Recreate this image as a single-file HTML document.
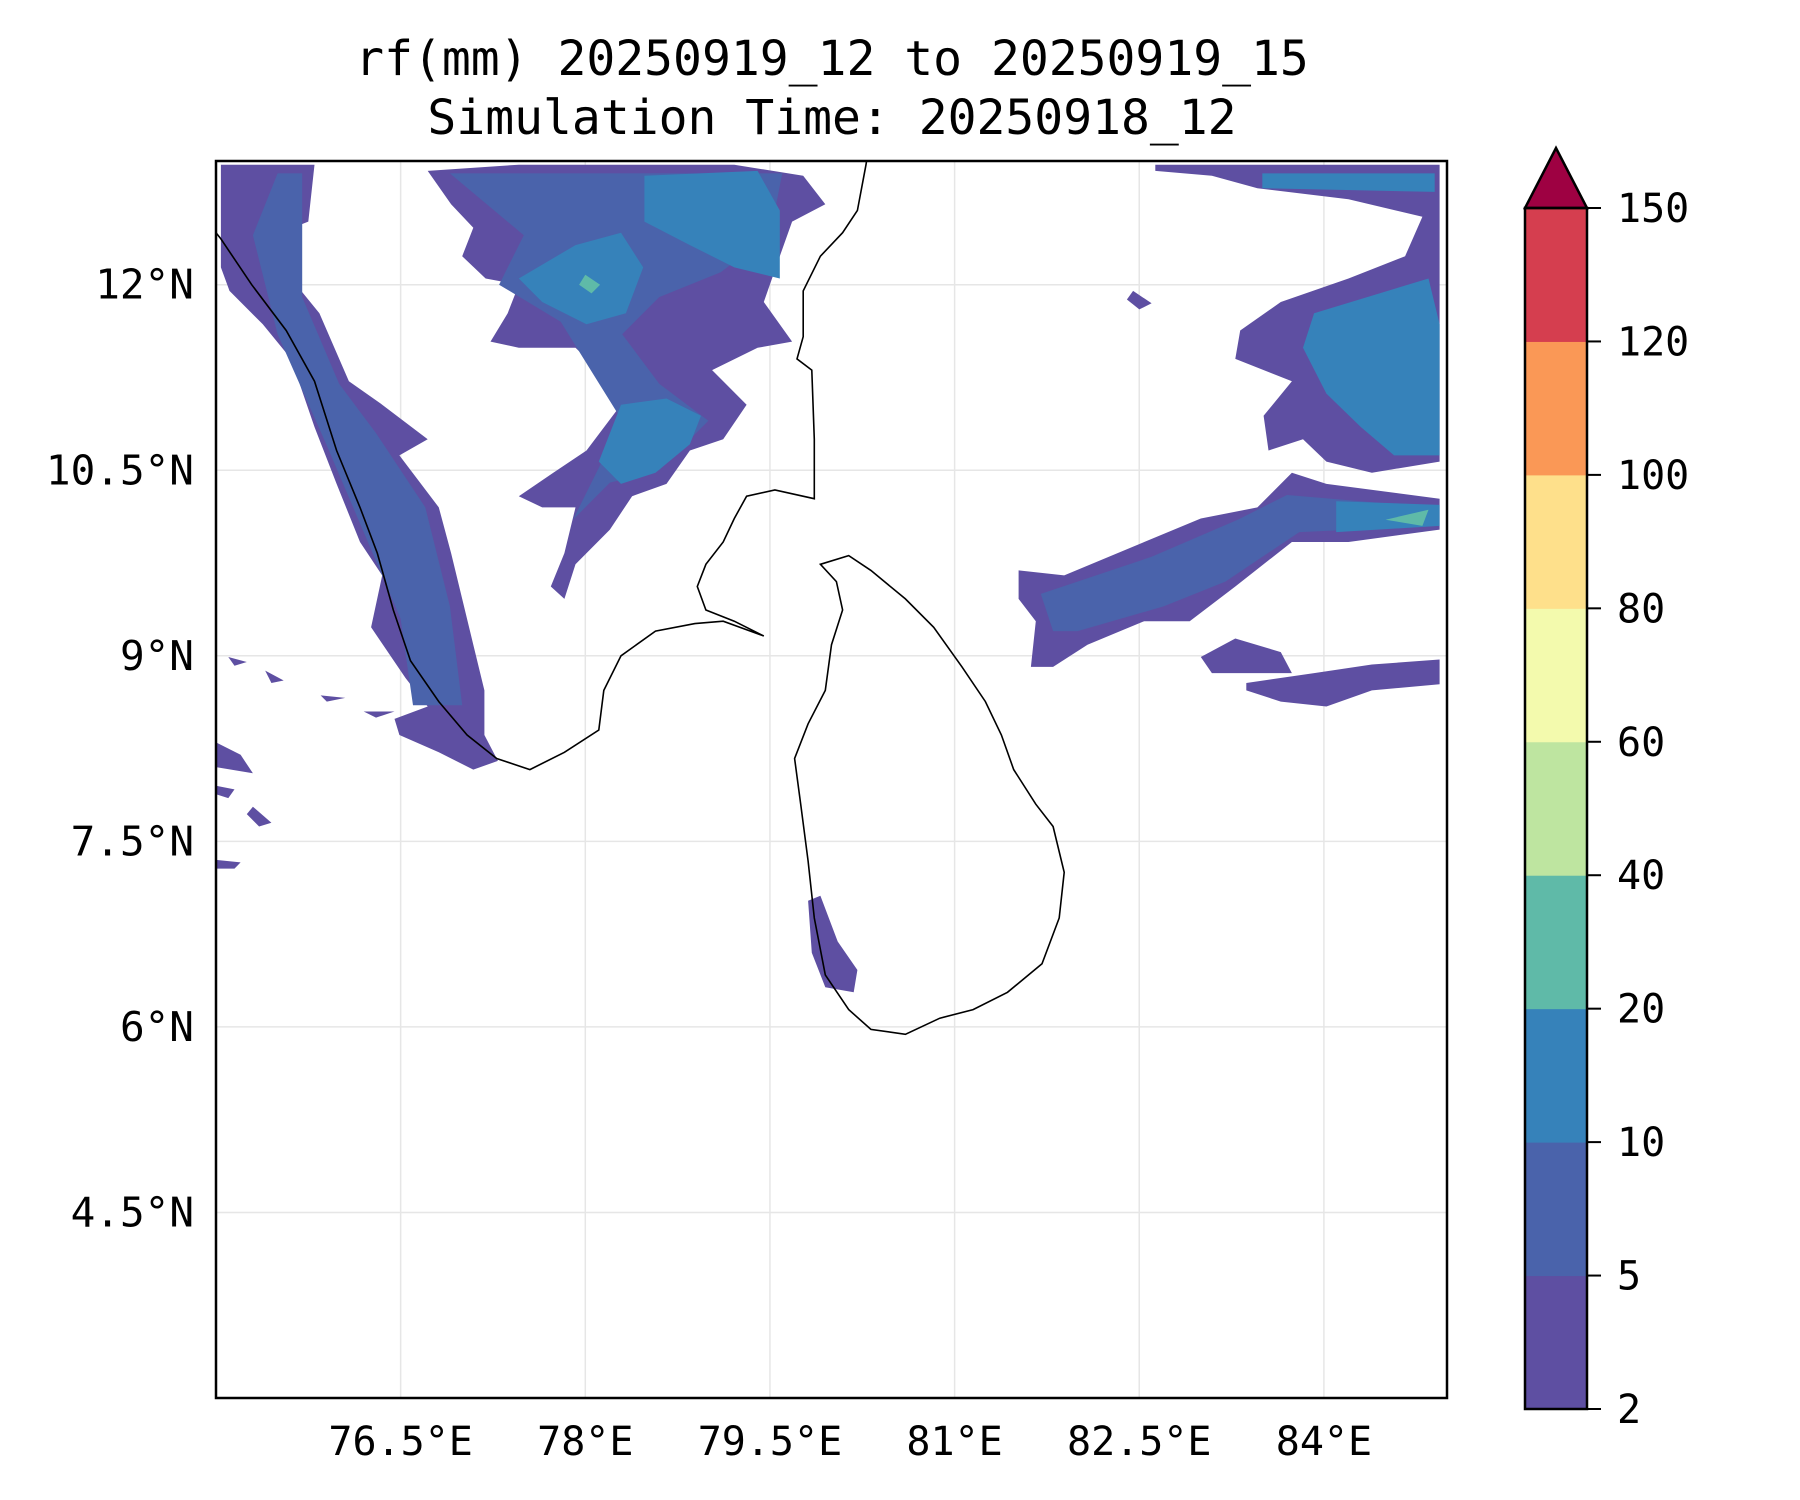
<!DOCTYPE html>
<html><head><meta charset="utf-8"><style>
body{margin:0;background:#fff}
svg{display:block}
text{font-family:"DejaVu Sans Mono","Liberation Mono",monospace;fill:#000}
</style></head><body>
<svg id="chart" width="1800" height="1500" viewBox="0 0 1800 1500" xmlns="http://www.w3.org/2000/svg">
<text x="832" y="75" font-size="48" text-anchor="middle">rf(mm) 20250919_12 to 20250919_15</text>
<text x="832" y="134" font-size="48" text-anchor="middle">Simulation Time: 20250918_12</text>
<defs><clipPath id="clip"><rect x="216" y="161" width="1231" height="1237"/></clipPath></defs>
<g id="grid"></g>
<g id="rain" clip-path="url(#clip)"></g>
<g id="coast" clip-path="url(#clip)"></g>
<rect x="216" y="161" width="1231" height="1237" fill="none" stroke="#000" stroke-width="2.5"/>
<g id="axes"></g>
<g id="cbar"></g>
</svg>
<script>
const lonTicks=[76.5,78,79.5,81,82.5,84];
const lonLabels=["76.5°E","78°E","79.5°E","81°E","82.5°E","84°E"];
const latTicks=[4.5,6,7.5,9,10.5,12];
const latLabels=["4.5°N","6°N","7.5°N","9°N","10.5°N","12°N"];
const levels=[2,5,10,20,40,60,80,100,120,150];
const levelColors=["#5e4fa2","#4a63ab","#3682ba","#5fbaa8","#bee5a0","#f3faad","#fee08b","#fa9856","#d53e4f"];
const extendColor="#9e0142";
const indiaCoast=[[75.0,12.42],[75.04,12.37],[75.29,12.0],[75.57,11.63],[75.80,11.22],[75.98,10.66],[76.17,10.20],[76.31,9.83],[76.44,9.37],[76.58,8.96],[76.81,8.63],[77.04,8.36],[77.28,8.17],[77.55,8.08],[77.83,8.22],[78.11,8.40],[78.15,8.72],[78.29,9.0],[78.57,9.20],[78.89,9.26],[79.12,9.28],[79.45,9.16],[79.21,9.28],[78.98,9.37],[78.91,9.56],[78.98,9.74],[79.12,9.92],[79.21,10.11],[79.31,10.29],[79.54,10.34],[79.86,10.27],[79.86,10.75],[79.84,11.31],[79.72,11.40],[79.77,11.58],[79.77,11.95],[79.91,12.23],[80.09,12.42],[80.21,12.60],[80.28,12.97],[80.3,13.1]];
const sriLanka=[[79.91,9.74],[80.14,9.81],[80.32,9.69],[80.60,9.46],[80.83,9.23],[81.06,8.91],[81.25,8.63],[81.38,8.36],[81.48,8.08],[81.66,7.80],[81.80,7.62],[81.89,7.25],[81.85,6.88],[81.71,6.51],[81.43,6.28],[81.15,6.14],[80.88,6.07],[80.60,5.94],[80.32,5.98],[80.14,6.14],[79.95,6.42],[79.86,6.88],[79.81,7.34],[79.75,7.80],[79.70,8.17],[79.81,8.45],[79.95,8.72],[80.0,9.09],[80.09,9.37],[80.04,9.60]];
const rainLevels=[0,0,0,0,0,0,0,0,1,1,1,2,2,2,2,2,2,3,3,0,0,0,0,0,0,0,0,0];
const rainShapes=[
[[75.04,12.97],[75.80,12.97],[75.75,12.51],[75.52,12.42],[75.61,12.05],[75.84,11.77],[76.08,11.22],[76.35,11.03],[76.72,10.75],[76.49,10.62],[76.81,10.20],[76.91,9.83],[77.0,9.46],[77.09,9.09],[77.18,8.72],[77.18,8.36],[77.29,8.15],[77.09,8.08],[76.81,8.22],[76.49,8.36],[76.45,8.49],[76.72,8.59],[76.54,8.82],[76.26,9.23],[76.35,9.65],[76.17,9.92],[75.98,10.39],[75.80,10.85],[75.61,11.40],[75.38,11.68],[75.11,11.95],[75.04,12.14]],
[[76.72,12.92],[77.46,12.97],[79.21,12.97],[79.77,12.88],[79.95,12.65],[79.68,12.51],[79.58,12.23],[79.45,11.86],[79.68,11.54],[79.40,11.49],[79.03,11.31],[79.31,11.03],[79.12,10.75],[78.85,10.66],[78.66,10.39],[78.38,10.29],[78.20,10.02],[77.92,9.74],[77.83,9.46],[77.72,9.56],[77.83,9.83],[77.92,10.20],[77.65,10.20],[77.46,10.29],[77.74,10.48],[78.01,10.66],[78.29,11.03],[78.11,11.31],[77.92,11.49],[77.46,11.49],[77.23,11.54],[77.37,11.77],[77.46,12.0],[77.19,12.05],[77.0,12.23],[77.09,12.46],[76.91,12.65]],
[[82.63,12.97],[84.94,12.97],[84.94,10.57],[84.39,10.48],[84.02,10.57],[83.83,10.75],[83.55,10.66],[83.51,10.94],[83.74,11.22],[83.28,11.40],[83.32,11.63],[83.65,11.86],[84.20,12.05],[84.66,12.23],[84.80,12.55],[84.20,12.69],[83.46,12.78],[83.09,12.88],[82.63,12.92]],
[[81.52,9.69],[81.89,9.65],[82.54,9.92],[83.0,10.11],[83.46,10.20],[83.74,10.48],[84.02,10.39],[84.94,10.27],[84.94,10.02],[84.20,9.92],[83.74,9.92],[83.28,9.56],[82.91,9.28],[82.54,9.28],[82.08,9.09],[81.80,8.91],[81.62,8.91],[81.66,9.28],[81.52,9.46]],
[[83.0,8.99],[83.28,9.14],[83.65,9.03],[83.74,8.86],[83.09,8.86]],
[[83.37,8.78],[83.92,8.86],[84.39,8.93],[84.94,8.97],[84.94,8.77],[84.39,8.72],[84.02,8.59],[83.65,8.63],[83.37,8.72]],
[[79.81,7.02],[79.91,7.06],[80.05,6.69],[80.21,6.46],[80.18,6.28],[79.95,6.32],[79.84,6.60]],
[[75.0,8.3],[75.2,8.2],[75.3,8.05],[75.0,8.1]],
[[75.7,11.9],[76.0,11.2],[76.3,10.8],[76.7,10.2],[76.9,9.4],[77.0,8.6],[76.6,8.6],[76.5,9.3],[76.2,10.0],[75.9,10.7],[75.5,11.6],[75.3,12.4],[75.5,12.9],[75.7,12.9]],
[[76.9,12.9],[79.6,12.9],[79.5,12.4],[79.1,12.1],[78.6,11.9],[78.3,11.6],[78.6,11.2],[79.0,10.9],[78.6,10.5],[78.2,10.4],[77.9,10.1],[78.3,10.9],[77.8,11.7],[77.3,12.0],[77.5,12.4]],
[[81.7,9.5],[82.6,9.8],[83.3,10.1],[83.7,10.3],[84.9,10.2],[84.9,10.05],[83.8,10.0],[83.2,9.6],[82.7,9.4],[82.0,9.2],[81.8,9.2]],
[[77.46,12.05],[77.65,11.86],[78.01,11.68],[78.33,11.77],[78.47,12.14],[78.29,12.42],[77.92,12.32]],
[[78.48,12.88],[79.40,12.92],[79.58,12.60],[79.58,12.05],[79.21,12.14],[78.85,12.32],[78.48,12.51]],
[[78.29,11.03],[78.66,11.08],[78.94,10.94],[78.85,10.71],[78.57,10.48],[78.29,10.39],[78.11,10.57]],
[[83.92,11.77],[84.85,12.05],[84.94,11.68],[84.94,10.62],[84.57,10.62],[84.30,10.85],[84.02,11.12],[83.83,11.49]],
[[84.1,10.25],[84.94,10.22],[84.94,10.05],[84.1,10.0]],
[[83.5,12.9],[84.9,12.9],[84.9,12.75],[83.5,12.78]],
[[78.0,12.08],[78.12,12.0],[78.05,11.93],[77.95,12.0]],
[[84.5,10.1],[84.85,10.18],[84.8,10.05]],
[[75.1,8.99],[75.25,8.95],[75.15,8.92]],
[[75.4,8.88],[75.55,8.8],[75.45,8.78]],
[[75.85,8.68],[76.05,8.66],[75.9,8.63]],
[[76.2,8.55],[76.45,8.55],[76.3,8.5]],
[[75.0,7.95],[75.15,7.92],[75.1,7.85],[75.0,7.88]],
[[75.3,7.78],[75.45,7.65],[75.35,7.62],[75.25,7.72]],
[[75.0,7.35],[75.2,7.33],[75.15,7.28],[75.0,7.28]],
[[82.45,11.95],[82.6,11.85],[82.5,11.8],[82.4,11.88]]
];
const NS="http://www.w3.org/2000/svg";
const X0=216,X1=1447,Y0=161,Y1=1398,LON0=75.0,LON1=85.0,LAT0=3.0,LAT1=13.0;
function xs(lon){return X0+(lon-LON0)/(LON1-LON0)*(X1-X0);}
function ys(lat){return Y1-(lat-LAT0)/(LAT1-LAT0)*(Y1-Y0);}
function mk(tag,attrs,parent){const e=document.createElementNS(NS,tag);for(const k in attrs)e.setAttribute(k,attrs[k]);parent.appendChild(e);return e;}
function pts(arr){return arr.map(p=>xs(p[0]).toFixed(1)+","+ys(p[1]).toFixed(1)).join(" ");}
const grid=document.getElementById('grid'),axes=document.getElementById('axes');
lonTicks.forEach((v,i)=>{
  const l=mk('line',{x1:xs(v),x2:xs(v),y1:Y0,y2:Y1,stroke:"#e6e6e6","stroke-width":1.5},grid);
  
  
  const t=mk('text',{x:xs(v),y:1455,"font-size":40,"text-anchor":"middle"},axes);
  t.textContent=lonLabels[i];
  
  
});
latTicks.forEach((v,i)=>{
  const l=mk('line',{x1:X0,x2:X1,y1:ys(v),y2:ys(v),stroke:"#e6e6e6","stroke-width":1.5},grid);
  
  
  const t=mk('text',{x:194,y:ys(v)+14,"font-size":41,"text-anchor":"end"},axes);
  t.textContent=latLabels[i];
  
  
});
const rain=document.getElementById('rain');
rainShapes.forEach((s,i)=>{
  const p=mk('polygon',{points:pts(s),fill:levelColors[rainLevels[i]],"stroke-linejoin":"round"},rain);
  
  
});
const coast=document.getElementById('coast');
const c1=mk('polyline',{points:pts(indiaCoast),fill:"none",stroke:"#000","stroke-width":1.6},coast);


const c2=mk('polygon',{points:pts(sriLanka),fill:"none",stroke:"#000","stroke-width":1.6},coast);


const cb=document.getElementById('cbar');
const CX=1525,CW=62,CB=1409,CT=208;
const step=(CB-CT)/(levels.length-1);
for(let i=0;i<levels.length-1;i++){
  const r=mk('rect',{x:CX,y:CB-(i+1)*step,width:CW,height:step+0.5,fill:levelColors[i]},cb);
  
  
}
const tri=mk('polygon',{points:`${CX},${CT} ${CX+CW/2},148 ${CX+CW},${CT}`,fill:extendColor,stroke:"#000","stroke-width":2.5,"stroke-linejoin":"miter"},cb);


const fr=mk('rect',{x:CX,y:CT,width:CW,height:CB-CT,fill:"none",stroke:"#000","stroke-width":2.5},cb);


levels.forEach((v,i)=>{
  const y=CB-i*step;
  const tk=mk('line',{x1:CX+CW,x2:CX+CW+14,y1:y,y2:y,stroke:"#000","stroke-width":2},cb);
  
  
  const t=mk('text',{x:CX+CW+30,y:y+14,"font-size":40},cb);
  t.textContent=v;
  
  
});
</script>
</body></html>
